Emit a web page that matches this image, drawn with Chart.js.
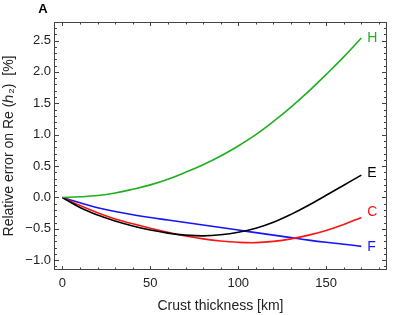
<!DOCTYPE html>
<html>
<head>
<meta charset="utf-8">
<script src="https://cdn.jsdelivr.net/npm/chart.js@4"></script>
<style>
  html, body { margin: 0; padding: 0; background: #fff; }
  #wrap { width: 403px; height: 315px; position: relative; }
</style>
</head>
<body>
<div id="wrap"><canvas id="grafico"></canvas></div>
<script>
// ================== DADOS ==================
const espessura = [0, 10, 20, 30, 40, 50, 60, 70, 80, 90, 100, 110, 120, 130, 140, 150, 160, 170];

const serieH = [0, 0.01, 0.03, 0.07, 0.13, 0.2, 0.29, 0.4, 0.52, 0.66, 0.82, 1.0, 1.21, 1.44, 1.69, 1.96, 2.24, 2.54];
const serieE = [0, -0.16, -0.28, -0.375, -0.455, -0.52, -0.568, -0.6, -0.612, -0.595, -0.555, -0.49, -0.395, -0.27, -0.125, 0.035, 0.195, 0.355];
const serieC = [0, -0.13, -0.245, -0.345, -0.42, -0.49, -0.555, -0.613, -0.66, -0.695, -0.715, -0.72, -0.7, -0.66, -0.6, -0.525, -0.43, -0.32];
const serieF = [0, -0.085, -0.165, -0.225, -0.275, -0.32, -0.36, -0.4, -0.44, -0.48, -0.52, -0.56, -0.6, -0.64, -0.68, -0.715, -0.745, -0.78];

const nomes = ["H", "E", "C", "F"];
const ticksX = [0, 50, 100, 150];
const ticksY = [-1, -0.5, 0, 0.5, 1, 1.5, 2, 2.5];

// ================== ESTILO ==================
const FONTE = "'Liberation Sans', Arial, sans-serif";
const cores = ["#1faf1f", "#000000", "#ff1414", "#1414ff"];
const desvioRotulo = [0, -2, -5, 1];

function pontos(ys) {
  return espessura.map((x, i) => ({ x: x, y: ys[i] }));
}

const series = [serieH, serieE, serieC, serieF];
const datasets = series.map((ys, i) => ({
  label: nomes[i],
  data: pontos(ys),
  borderColor: cores[i],
  borderWidth: 1.6,
  pointRadius: 0,
  tension: 0.4,
  fill: false,
  desvio: desvioRotulo[i],
}));

// moldura + ticks internos + rótulos das curvas
const moldura = {
  id: "moldura",
  afterDatasetsDraw(chart) {
    const { ctx, chartArea: a, scales } = chart;
    const sx = scales.x, sy = scales.y;
    ctx.save();
    ctx.strokeStyle = "#444";
    ctx.lineWidth = 1;
    ctx.strokeRect(a.left + 0.5, a.top + 0.5, a.right - a.left - 1, a.bottom - a.top - 1);

    ctx.beginPath();
    for (let v = 0; v <= 180; v += 10) {
      const px = Math.round(sx.getPixelForValue(v)) + 0.5;
      const len = v % 50 === 0 ? 4 : 2.5;
      ctx.moveTo(px, a.bottom); ctx.lineTo(px, a.bottom - len);
      ctx.moveTo(px, a.top); ctx.lineTo(px, a.top + len);
    }
    for (let k = -11; k <= 27; k++) {
      const v = k / 10;
      const py = Math.round(sy.getPixelForValue(v)) + 0.5;
      const len = k % 5 === 0 ? 5 : 3;
      ctx.moveTo(a.left, py); ctx.lineTo(a.left + len, py);
      ctx.moveTo(a.right, py); ctx.lineTo(a.right - len, py);
    }
    ctx.stroke();

    // rótulos no fim de cada curva
    ctx.font = "14px " + FONTE;
    ctx.textBaseline = "middle";
    ctx.textAlign = "left";
    chart.data.datasets.forEach((ds) => {
      const ult = ds.data[ds.data.length - 1];
      ctx.fillStyle = ds.borderColor;
      ctx.fillText(ds.label, sx.getPixelForValue(ult.x) + 6, sy.getPixelForValue(ult.y) + ds.desvio);
    });

    // letra do painel
    ctx.fillStyle = "#000";
    ctx.font = "bold 13px " + FONTE;
    ctx.textAlign = "center";
    ctx.fillText("A", 43, 9);
    ctx.restore();
  },
};

const ctx = document.getElementById("grafico");

new Chart(ctx, {
  type: "line",
  data: { datasets: datasets },
  options: {
    responsive: true,
    maintainAspectRatio: false,
    animation: false,
    layout: { padding: { top: 22, right: 16, left: 0, bottom: 0 } },
    plugins: { legend: { display: false }, tooltip: { enabled: false } },
    scales: {
      x: {
        type: "linear",
        min: -4.8,
        max: 184.6,
        afterBuildTicks: (s) => { s.ticks = ticksX.map((v) => ({ value: v })); },
        afterFit: (s) => { s.height = 45; },
        grid: { display: false, drawTicks: false },
        border: { display: false },
        ticks: { color: "#222", font: { family: FONTE, size: 13 }, padding: 6, maxRotation: 0 },
        title: {
          display: true,
          text: "Crust thickness [km]",
          color: "#222",
          font: { family: FONTE, size: 14 },
          padding: { top: 1, bottom: 0 },
        },
      },
      y: {
        type: "linear",
        min: -1.156,
        max: 2.795,
        afterBuildTicks: (s) => { s.ticks = ticksY.map((v) => ({ value: v })); },
        afterFit: (s) => { s.width = 54; },
        grid: { display: false, drawTicks: false },
        border: { display: false },
        ticks: {
          color: "#222",
          font: { family: FONTE, size: 13 },
          padding: 3,
          callback: (v) => v.toFixed(1).replace("-", "\u2212"),
        },
        title: {
          display: true,
          text: "Relative error on Re (\u210E\u2082)  [%]",
          color: "#222",
          font: { family: FONTE, size: 14 },
          padding: { top: 1, bottom: 0 },
        },
      },
    },
  },
  plugins: [moldura],
});
</script>
</body>
</html>
